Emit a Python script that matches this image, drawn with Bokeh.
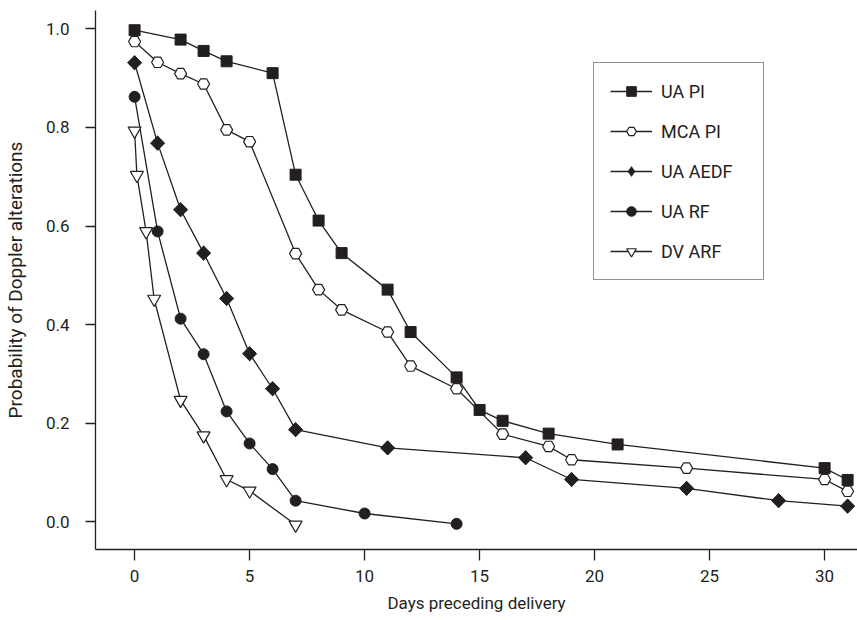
import math
from bokeh.plotting import figure
from bokeh.models import Legend, LegendItem, FixedTicker, Range1d, CustomJSTickFormatter
from bokeh.embed import file_html
from bokeh.resources import INLINE

# ---- data ----
ua_pi_x = [0, 2, 3, 4, 6, 7, 8, 9, 11, 12, 14, 15, 16, 18, 21, 30, 31]
ua_pi_y = [0.997, 0.978, 0.955, 0.934, 0.910, 0.704, 0.611, 0.545, 0.471, 0.385,
           0.293, 0.227, 0.205, 0.179, 0.157, 0.109, 0.085]

mca_pi_x = [0, 1, 2, 3, 4, 5, 7, 8, 9, 11, 12, 14, 16, 18, 19, 24, 30, 31]
mca_pi_y = [0.974, 0.932, 0.909, 0.888, 0.795, 0.771, 0.544, 0.471, 0.430, 0.385,
            0.316, 0.270, 0.178, 0.153, 0.126, 0.109, 0.086, 0.062]

ua_aedf_x = [0, 1, 2, 3, 4, 5, 6, 7, 11, 17, 19, 24, 28, 31]
ua_aedf_y = [0.931, 0.768, 0.633, 0.545, 0.453, 0.341, 0.270, 0.187, 0.150, 0.130,
             0.086, 0.068, 0.043, 0.032]

ua_rf_x = [0, 1, 2, 3, 4, 5, 6, 7, 10, 14]
ua_rf_y = [0.862, 0.589, 0.412, 0.340, 0.224, 0.159, 0.107, 0.043, 0.017, -0.004]

dv_arf_x = [0, 0.1, 0.5, 0.85, 2, 3, 4, 5, 7]
dv_arf_y = [0.793, 0.703, 0.589, 0.452, 0.247, 0.175, 0.086, 0.063, -0.006]

series_names = ["UA PI", "MCA PI", "UA AEDF", "UA RF", "DV ARF"]
x_ticks = [0, 5, 10, 15, 20, 25, 30]
y_ticks = [0.0, 0.2, 0.4, 0.6, 0.8, 1.0]
x_title = "Days preceding delivery"
y_title = "Probability of Doppler alterations"

FONT = "Roboto"
INK = "#231f20"

p = figure(width=857, height=620, output_backend="svg", toolbar_location=None,
           x_range=Range1d(-1.70, 31.43), y_range=Range1d(-0.056, 1.037),
           min_border_left=95, min_border_right=0, min_border_top=10,
           min_border_bottom=71)
p.outline_line_color = None
p.grid.visible = False

for ax in (p.xaxis[0], p.yaxis[0]):
    ax.axis_line_color = INK
    ax.axis_line_width = 1.3
    ax.major_tick_line_color = INK
    ax.major_tick_line_width = 1.3
    ax.major_tick_in = 0
    ax.minor_tick_line_color = None
    ax.major_label_text_font = FONT
    ax.major_label_text_font_size = "17px"
    ax.major_label_text_color = INK
    ax.axis_label_text_font = FONT
    ax.axis_label_text_font_style = "normal"
    ax.axis_label_text_color = INK

p.xaxis.ticker = FixedTicker(ticks=x_ticks)
p.yaxis.ticker = FixedTicker(ticks=y_ticks)
p.yaxis.formatter = CustomJSTickFormatter(code="return tick.toFixed(1);")
p.xaxis.major_tick_out = 11
p.xaxis.major_label_standoff = 9
p.xaxis.axis_label = x_title
p.xaxis.axis_label_standoff = 8
p.xaxis.axis_label_text_font_size = "17px"
p.yaxis.major_tick_out = 10
p.yaxis.major_label_standoff = 16
p.yaxis.axis_label = y_title
p.yaxis.axis_label_standoff = 16
p.yaxis.axis_label_text_font_size = "19px"

lw = 1.3
items = []

l1 = p.line(ua_pi_x, ua_pi_y, line_color=INK, line_width=lw)
m1 = p.scatter(ua_pi_x, ua_pi_y, marker="square", size=11, fill_color=INK, line_color=INK)
items.append(LegendItem(label=series_names[0], renderers=[l1, m1]))

l2 = p.line(mca_pi_x, mca_pi_y, line_color=INK, line_width=lw)
m2 = p.scatter(mca_pi_x, mca_pi_y, marker="hex", size=12, fill_color="white",
               line_color=INK, line_width=1.2)
items.append(LegendItem(label=series_names[1], renderers=[l2, m2]))

l3 = p.line(ua_aedf_x, ua_aedf_y, line_color=INK, line_width=lw)
# diamond key (drawn beneath the rotated squares, fully covered by them)
k3 = p.scatter(ua_aedf_x, ua_aedf_y, marker="diamond", size=14, fill_color=INK, line_color=INK)
m3 = p.scatter(ua_aedf_x, ua_aedf_y, marker="square", angle=math.pi / 4, size=10,
               fill_color=INK, line_color=INK)
items.append(LegendItem(label=series_names[2], renderers=[l3, k3]))

l4 = p.line(ua_rf_x, ua_rf_y, line_color=INK, line_width=lw)
m4 = p.scatter(ua_rf_x, ua_rf_y, marker="circle", size=11, fill_color=INK, line_color=INK)
items.append(LegendItem(label=series_names[3], renderers=[l4, m4]))

l5 = p.line(dv_arf_x, dv_arf_y, line_color=INK, line_width=lw)
m5 = p.scatter(dv_arf_x, dv_arf_y, marker="inverted_triangle", size=13, fill_color="white",
               line_color=INK, line_width=1.2)
items.append(LegendItem(label=series_names[4], renderers=[l5, m5]))

legend = Legend(items=items, location=(498, 269))
legend.border_line_color = INK
legend.border_line_width = 1.3
legend.background_fill_color = "white"
legend.background_fill_alpha = 1
legend.label_text_font = FONT
legend.label_text_font_size = "18px"
legend.label_text_color = INK
legend.glyph_width = 42
legend.glyph_height = 24
legend.label_height = 24
legend.spacing = 16
legend.padding = 16
legend.margin = 0
legend.label_standoff = 9
legend.label_width = 86
p.add_layout(legend, "center")

open("out.html", "w").write(file_html(p, INLINE))
